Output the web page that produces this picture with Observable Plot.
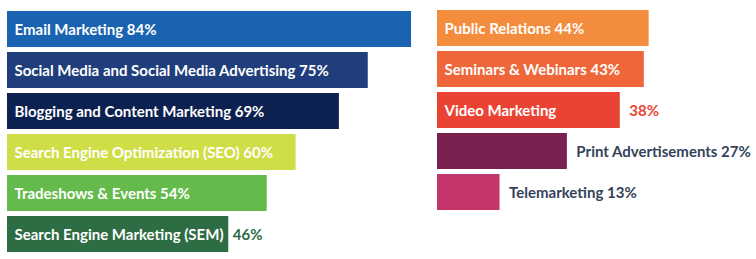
<!DOCTYPE html>
<html>
<head>
<meta charset="utf-8">
<script src="https://cdn.jsdelivr.net/npm/d3@7"></script>
<script src="https://cdn.jsdelivr.net/npm/@observablehq/plot@0.6"></script>
<style>
  html, body { margin: 0; padding: 0; background: #fff; }
  #wrap { display: flex; width: 756px; height: 259px; }
  #wrap svg { display: block; }
</style>
</head>
<body>
<div id="wrap"></div>
<script>
const leftNames = ["Email Marketing", "Social Media and Social Media Advertising", "Blogging and Content Marketing", "Search Engine Optimization (SEO)", "Tradeshows & Events", "Search Engine Marketing (SEM)"];
const leftValues = [84, 75, 69, 60, 54, 46];
const leftColors = ["#1a63b0", "#1f3e7b", "#0c2150", "#cfdd46", "#64bb4b", "#2e6c44"];
const leftPlacement = ["inside", "inside", "inside", "inside", "inside", "split"];

const rightNames = ["Public Relations", "Seminars & Webinars", "Video Marketing", "Print Advertisements", "Telemarketing"];
const rightValues = [44, 43, 38, 27, 13];
const rightColors = ["#f38c3d", "#ee6639", "#ea4334", "#7b2150", "#c4356c"];
const rightPlacement = ["inside", "inside", "split", "outside", "outside"];

const outsideTextColor = "#34435a";

function chart(names, values, colors, placement, o) {
  const rows = names.map((n, i) => ({name: n, value: values[i], color: colors[i], place: placement[i]}));
  return Plot.plot({
    width: o.width,
    height: 259,
    marginLeft: o.marginLeft,
    marginRight: 0,
    marginTop: 9,
    marginBottom: o.marginBottom,
    x: {domain: [0, 100], range: [o.marginLeft, o.marginLeft + 481], axis: null},
    y: {domain: names, axis: null, paddingInner: 0.11, paddingOuter: 0},
    color: {type: "identity"},
    style: {fontFamily: "Lato, sans-serif", background: "white"},
    marks: [
      Plot.barX(rows, {x: "value", y: "name", fill: "color"}),
      Plot.text(rows.filter(d => d.place !== "outside"), {
        x: 0, y: "name",
        text: d => d.place === "inside" ? `${d.name} ${d.value}%` : d.name,
        textAnchor: "start", dx: 7, dy: 1,
        fill: "white", fontWeight: "bold", fontSize: 15
      }),
      Plot.text(rows.filter(d => d.place !== "inside"), {
        x: "value", y: "name",
        text: d => d.place === "split" ? `${d.value}%` : `${d.name} ${d.value}%`,
        textAnchor: "start", dx: o.outDx, dy: 1,
        fill: d => d.place === "split" ? d.color : outsideTextColor,
        fontWeight: "bold", fontSize: 15
      })
    ]
  });
}

const wrap = document.getElementById("wrap");
wrap.append(chart(leftNames, leftValues, leftColors, leftPlacement, {width: 420, marginLeft: 7, marginBottom: 5, outDx: 4}));
wrap.append(chart(rightNames, rightValues, rightColors, rightPlacement, {width: 336, marginLeft: 17, marginBottom: 47, outDx: 9}));
</script>
</body>
</html>
